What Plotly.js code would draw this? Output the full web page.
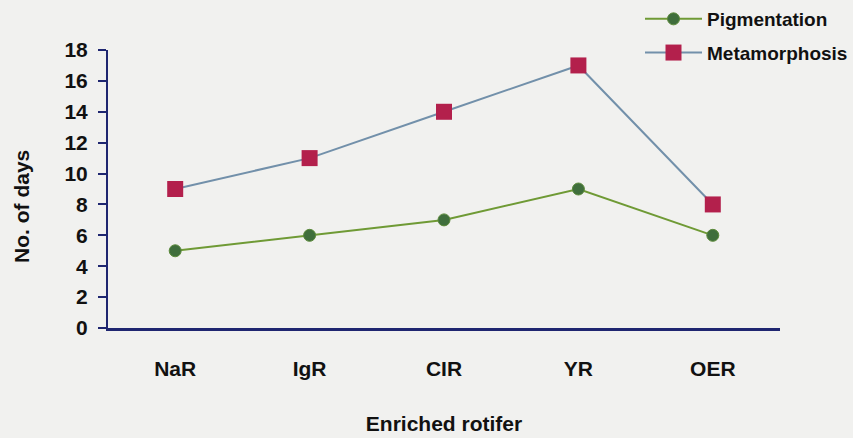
<!DOCTYPE html>
<html>
<head>
<meta charset="utf-8">
<script src="https://cdn.plot.ly/plotly-3.0.1.min.js"></script>
<style>html,body{margin:0;padding:0;background:#f1f1ef;}</style>
</head>
<body>
<div id="chart" style="width:853px;height:438px;"></div>
<script>
const categories = ["NaR", "IgR", "CIR", "YR", "OER"];
const pigmentation = [5, 6, 7, 9, 6];
const metamorphosis = [9, 11, 14, 17, 8];
const yTicks = [0, 2, 4, 6, 8, 10, 12, 14, 16, 18];

const FONT = "Liberation Sans, Arial, sans-serif";
const NAVY = "#1f2670";
const FS = 21;

const traces = [
  {
    x: categories, y: pigmentation, name: "Pigmentation", type: "scatter", mode: "lines+markers",
    line: {color: "#6f9a35", width: 2},
    marker: {symbol: "circle", size: 12, color: "#3f6e3c", line: {color: "#5b8a3a", width: 1}},
    legendgroup: "a"
  },
  {
    x: categories, y: metamorphosis, name: "Metamorphosis", type: "scatter", mode: "lines+markers",
    line: {color: "#7290aa", width: 2},
    marker: {symbol: "square", size: 16, color: "#b3204c", line: {width: 0}},
    legendgroup: "b"
  }
];

const layout = {
  width: 853, height: 438,
  paper_bgcolor: "#f1f1ef", plot_bgcolor: "rgba(0,0,0,0)",
  margin: {l: 108, r: 73, t: 50, b: 110, autoexpand: false},
  font: {family: FONT, size: FS, color: "#111"},
  showlegend: true,
  legend: {
    xref: "container", yref: "container",
    x: 640 / 853, y: 1, xanchor: "left", yanchor: "top",
    bgcolor: "rgba(0,0,0,0)", tracegroupgap: 6, itemwidth: 57,
    font: {family: FONT, size: 19, color: "#111", weight: "bold"}
  },
  xaxis: {
    type: "category", range: [-0.5, 4.5],
    showline: true, linecolor: NAVY, linewidth: 3, showgrid: false, zeroline: false,
    ticks: "", ticklabelstandoff: 20,
    tickfont: {family: FONT, size: FS, color: "#111", weight: "bold"},
    title: {text: "Enriched rotifer", standoff: 38, font: {family: FONT, size: FS, color: "#111", weight: "bold"}}
  },
  yaxis: {
    range: [0, 18], tickvals: yTicks, ticktext: yTicks.map(String),
    showline: true, linecolor: NAVY, linewidth: 2, showgrid: false, zeroline: false,
    ticks: "outside", ticklen: 8, tickwidth: 2, tickcolor: NAVY, ticklabelstandoff: 6,
    tickfont: {family: FONT, size: FS, color: "#111", weight: "bold"}
  },
  annotations: [
    {text: "No. of days", xref: "paper", yref: "paper", x: -0.128, y: 0.439,
     xanchor: "center", yanchor: "middle", textangle: -90, showarrow: false,
     font: {family: FONT, size: FS, color: "#111", weight: "bold"}}
  ]
};

Plotly.newPlot("chart", traces, layout, {displayModeBar: false, staticPlot: true});
</script>
</body>
</html>
